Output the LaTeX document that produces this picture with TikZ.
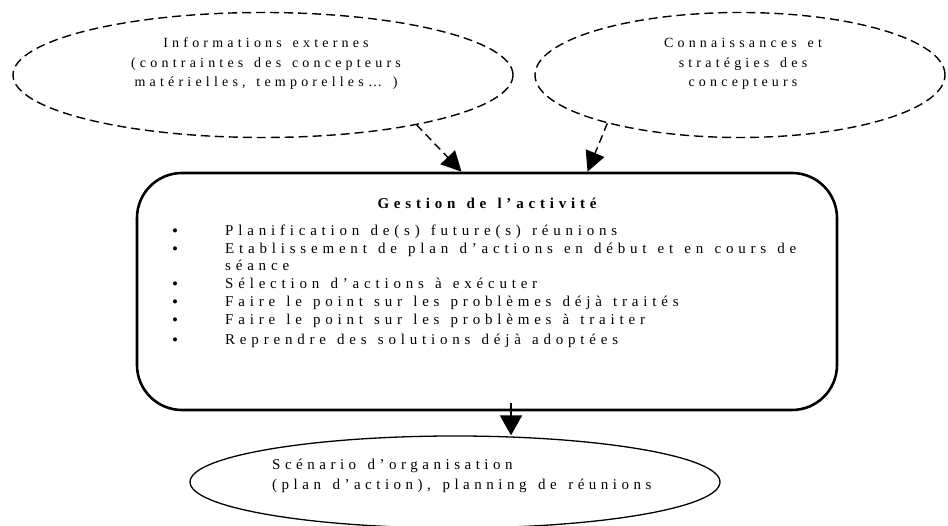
\documentclass[tikz,border=0pt]{standalone}
\usepackage{fontspec}
\setmainfont{Liberation Serif}
\newfontfamily\spaced[LetterSpace=30,WordSpace=1.4]{Liberation Serif}
\newfontfamily\wide[LetterSpace=32,WordSpace=1.3]{Liberation Serif}
\usepackage{tikz}
\usetikzlibrary{shapes}
\usetikzlibrary{positioning}
\usetikzlibrary{arrows.meta}
\tikzset{every node/.style={inner sep=0pt}, % Text nodes placed by hand
    influence/.style={ % Dashed arrows from the two sources
    draw, line width=1.4pt,
    dash pattern=on 8pt off 5pt,
    -{Triangle[width=20pt,length=20pt]}},
    flux/.style={ % Plain arrow towards the result
    draw, line width=2pt,
    -{Triangle[width=22pt,length=20pt]}}}
\begin{document}
\begin{tikzpicture}[x=1pt, y=1pt,
            source/.style={ellipse, draw, line width=1.4pt, dash pattern=on 9pt off 5pt, minimum height=125pt},
            gestion/.style={rectangle, draw, line width=2.6pt, rounded corners=45pt, minimum width=700pt, minimum height=237pt},
            resultat/.style={ellipse, draw, line width=1.3pt, minimum width=530pt, minimum height=92pt},
            txt/.style={font=\spaced\fontsize{14}{19.5}\selectfont, align=center},
            item/.style={font=\wide\fontsize{15}{19.5}\selectfont, anchor=base west},
            puce/.style={font=\fontsize{17}{17}\selectfont, anchor=base}
        ]

        \path[use as bounding box] (0,0) rectangle (948,526);

        % Sources
        \node[source, minimum width=500pt] (ext) at (263,451) {};
        \node[txt] (extText) at (266,462) {Informations externes\\(contraintes des concepteurs\\matérielles, temporelles… )};
        \node[source, minimum width=410pt] (conn) at (740,451) {};
        \node[txt] (connText) at (743,462) {Connaissances et\\stratégies des\\concepteurs};

        % Gestion de l'activite
        \node[gestion] (gest) at (487,234.5) {};
        \node[txt, font=\wide\bfseries\fontsize{15}{15}\selectfont] (titre) at (487,323) {Gestion de l’activité};

        % Items
        \node[item] (t1) at (225,290) {Planification de(s) future(s) réunions};
        \node[item] (t2) at (225,272) {Etablissement de plan d’actions en début et en cours de};
        \node[item] (t2b) at (225,255) {séance};
        \node[item] (t3) at (225,237) {Sélection d’actions à exécuter};
        \node[item] (t4) at (225,219) {Faire le point sur les problèmes déjà traités};
        \node[item] (t5) at (225,201) {Faire le point sur les problèmes à traiter};
        \node[item] (t6) at (225,181) {Reprendre des solutions déjà adoptées};
        \foreach \y [count=\i] in {289,271,236,218,200,180}
            \node[puce] (p\i) at (175,\y) {\textbullet};

        % Resultat
        \node[resultat] (scen) at (455,44) {};
        \node[item, align=left, anchor=west, font=\spaced\fontsize{15}{19.5}\selectfont] (scenText) at (272,50) {Scénario d’organisation\\(plan d’action), planning de réunions};

        % Connections
        \draw[influence] (ext.-18) -- (gest.102);
        \draw[influence] (conn.-160) -- (gest.50);
        \coordinate (depart) at ([xshift=24pt,yshift=8pt]gest.south);
        \draw[flux] (depart) -- (depart |- scen.north);

    \end{tikzpicture}
\end{document}
